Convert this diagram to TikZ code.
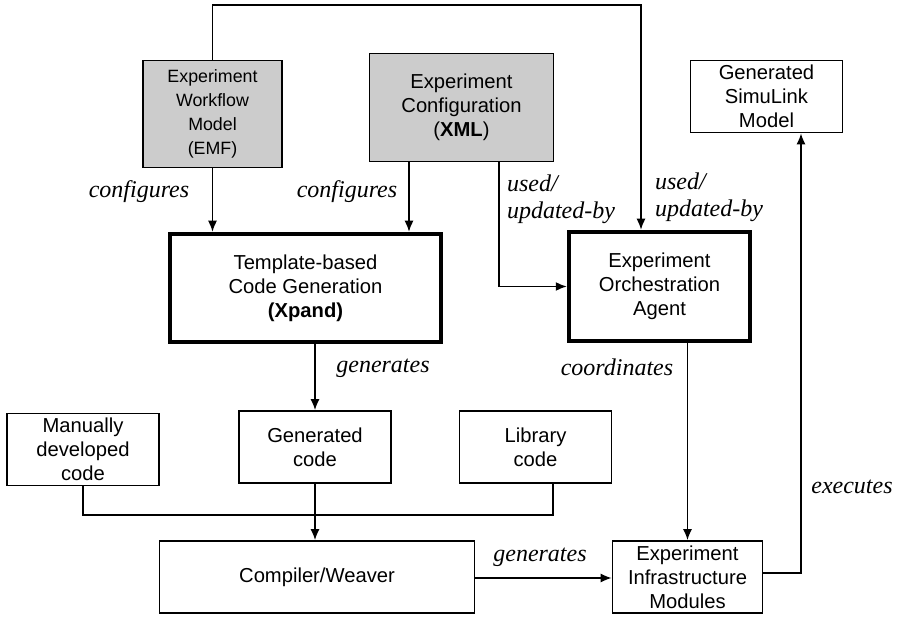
\documentclass[tikz,border=0pt]{standalone}
\usepackage{fontspec}
\setmainfont{Liberation Sans}
\newfontfamily\lblfont{Liberation Serif}
\usetikzlibrary{arrows.meta}
\definecolor{boxgray}{RGB}{204,204,204}
\begin{document}
\begin{tikzpicture}[x=1pt,y=-1pt,
  box/.style={draw=black,line width=1.7pt,inner sep=0pt,align=center,font=\fontsize{20.2}{24}\selectfont},
  graybox/.style={box,fill=boxgray},
  thickbox/.style={box,line width=4.5pt},
  conn/.style={line width=1.5pt},
  arr/.style={conn,-{Latex[length=11pt,width=9pt]}},
  lbl/.style={font=\lblfont\itshape\fontsize{24}{27}\selectfont,align=left,inner sep=0pt}]
\useasboundingbox (0,0) rectangle (898,617);
% nodes
\node[graybox,minimum width=139pt,minimum height=107pt,font=\fontsize{17.8}{24}\selectfont] (ewm) at (212.5,114) {Experiment\\Workflow\\Model\\(EMF)};
\node[graybox,minimum width=184pt,minimum height=108pt] (cfg) at (461.5,107.5) {Experiment\\Configuration\\(\textbf{XML})};
\node[thickbox,minimum width=271pt,minimum height=108pt] (tpl) at (305.5,288) {Template-based\\Code Generation\\\textbf{(Xpand)}};
\node[thickbox,minimum width=181pt,minimum height=109pt] (orch) at (659.5,286.5) {Experiment\\Orchestration\\Agent};
\node[box,minimum width=152pt,minimum height=72pt] (sim) at (766.5,96.5) {Generated\\SimuLink\\Model};
\node[box,minimum width=152pt,minimum height=72pt] (man) at (83,449.5) {Manually\\developed\\code};
\node[box,minimum width=152pt,minimum height=72pt] (gen) at (315,447) {Generated\\code};
\node[box,minimum width=152pt,minimum height=72pt] (lib) at (535.5,447) {Library\\code};
\node[box,minimum width=315pt,minimum height=72pt] (comp) at (317,577) {Compiler/Weaver};
\node[box,minimum width=150pt,minimum height=72pt] (infra) at (687.5,577) {Experiment\\Infrastructure\\Modules};
% helper coordinates
\coordinate (topy) at (0,5);
\coordinate (oa) at (641,0);
\coordinate (cx1) at (409,0);
\coordinate (cx2) at (499,0);
\coordinate (mergey) at (0,515);
\coordinate (libx) at (553,0);
\coordinate (exx) at (801,0);
% connectors
\draw[arr] (ewm.north) -- (ewm.north |- topy) -| (oa |- orch.north);
\draw[arr] (ewm.south) -- (ewm.south |- tpl.north);
\draw[arr] (cx1 |- cfg.south) -- (cx1 |- tpl.north);
\draw[arr] (cx2 |- cfg.south) |- (orch.west);
\draw[arr] (gen.north |- tpl.south) -- (gen.north);
\draw[arr] (infra.north |- orch.south) -- (infra.north);
\draw[conn] (man.south) |- (libx |- mergey) -- (libx |- lib.south);
\draw[arr] (gen.south) -- (gen.south |- comp.north);
\draw[arr] (comp.east |- 0,578) -- (infra.west |- 0,578);
\draw[arr] (infra.east |- 0,573) -| (exx |- sim.south);
% labels
\node[lbl] (l1) at (139,192) {configures};
\node[lbl] (l2) at (347,192) {configures};
\node[lbl] (l3) at (561,199) {used/\\updated-by};
\node[lbl] (l4) at (709,197) {used/\\updated-by};
\node[lbl] (l5) at (383,368) {generates};
\node[lbl] (l6) at (617,367) {coordinates};
\node[lbl] (l7) at (540,557) {generates};
\node[lbl] (l8) at (852,487) {executes};
\end{tikzpicture}
\end{document}
